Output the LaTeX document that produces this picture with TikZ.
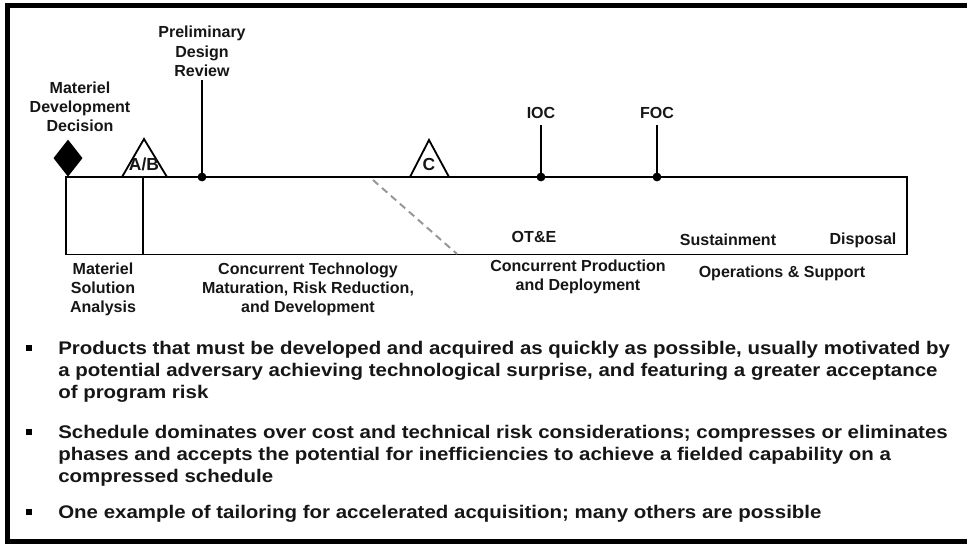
\documentclass[tikz,border=0pt]{standalone}
\usepackage{fontspec}
\setmainfont{Liberation Sans}
\newfontfamily\bulletfont[FakeStretch=1.12]{Liberation Sans}
\usetikzlibrary{shapes.geometric,calc}
\definecolor{acqInk}{RGB}{22,22,22}
\definecolor{acqDash}{RGB}{150,150,150}
\tikzset{
  mtext/.style={font=\bfseries\fontsize{11.4}{13.6}\selectfont,
    text=acqInk, align=center, inner sep=2.5pt, text depth=0pt},
  ptext/.style={font=\bfseries\fontsize{11.4}{13.6}\selectfont,
    text=acqInk, align=center, inner sep=1pt},
  gtext/.style={font=\bfseries\fontsize{12.4}{13}\selectfont,
    text=acqInk, inner sep=0pt},
  btext/.style={font=\bulletfont\bfseries\fontsize{13}{15.6}\selectfont,
    text=acqInk, align=left, inner sep=0pt}
}

\begin{document}
\begin{tikzpicture}[
  outerframe/.style={draw=black, line width=3.6pt},
  phasebox/.style={draw=black, line width=1.4pt},
  gate/.style={draw=black, line width=1.3pt, fill=white, line join=miter},
  decision/.style={diamond, fill=black, inner sep=0pt,
    minimum width=.73cm, minimum height=.93cm},
  event/.style={circle, fill=black, inner sep=0pt, minimum size=.22cm},
  mtick/.style={draw=black, line width=1.3pt},
  overlap/.style={draw=acqDash, line width=1.4pt, dash pattern=on 5pt off 3.5pt},
  sqbullet/.style={rectangle, fill=black, inner sep=0pt, minimum size=.14cm}
]
\path[use as bounding box] (0,0) rectangle (24.175,-13.6);

% outer frame (open to the right)
\draw[outerframe] (24.3,-.14) -- (.18,-.14) -- (.18,-13.54) -- (24.3,-13.54);

% phase box
\draw[phasebox] (1.65,-4.425) rectangle (22.675,-6.3625);
\draw[phasebox] (3.575,-4.425) -- (3.575,-6.3625);

\coordinate (ovtop) at (9.325,-4.5);
\coordinate (ovbot) at (11.425,-6.35);
\draw[overlap] (ovtop) -- (ovbot);

% milestones
\node[decision, anchor=south] (mdd) at (1.7,-4.425) {};
\node[mtext] (mddl) at (2.0,-2.66) {Materiel\\Development\\Decision};

\draw[gate] (3.05,-4.425) -- (3.6,-3.475) -- (4.175,-4.425) -- cycle;
\node[gtext] (msab) at (3.6,-4.12) {A/B};
\draw[gate] (10.25,-4.425) -- (10.725,-3.5) -- (11.225,-4.425) -- cycle;
\node[gtext] (msc) at (10.725,-4.11) {C};

\node[event] (pdr) at (5.05,-4.425) {};
\node[mtext, anchor=south] (pdrl) at (5.05,-2.0) {Preliminary\\Design\\Review};
\draw[mtick] (pdr.center) -- (pdrl.south);

\node[event] (ioc) at (13.525,-4.425) {};
\node[mtext, anchor=south, inner ysep=4.5pt] (iocl) at (13.525,-3.125) {IOC};
\draw[mtick] (ioc.center) -- (iocl.south);

\node[event] (foc) at (16.425,-4.425) {};
\node[mtext, anchor=south, inner ysep=4.5pt] (focl) at (16.425,-3.125) {FOC};
\draw[mtick] (foc.center) -- (focl.south);

% labels in and under the box
\node[ptext] (ote) at (13.35,-5.925) {OT\&E};
\node[ptext] (sust) at (18.2,-6.0) {Sustainment};
\node[ptext] (disp) at (21.575,-6.0) {Disposal};

\node[ptext] (msa) at (2.575,-7.225) {Materiel\\Solution\\Analysis};
\node[ptext] (tmrr) at (7.7,-7.225) {Concurrent Technology\\Maturation, Risk Reduction,\\and Development};
\node[ptext] (pd) at (14.45,-6.925) {Concurrent Production\\and Deployment};
\node[ptext] (os) at (19.55,-6.825) {Operations \& Support};

% bullet list
\node[sqbullet] (b1) at (.725,-8.7) {};
\node[btext, anchor=north west] (t1) at (1.45,-8.525)
  {Products that must be developed and acquired as quickly as possible, usually motivated by\\
   a potential adversary achieving technological surprise, and featuring a greater acceptance\\
   of program risk};
\node[sqbullet] (b2) at (.725,-10.8) {};
\node[btext, anchor=north west] (t2) at (1.45,-10.625)
  {Schedule dominates over cost and technical risk considerations; compresses or eliminates\\
   phases and accepts the potential for inefficiencies to achieve a fielded capability on a\\
   compressed schedule};
\node[sqbullet] (b3) at (.725,-12.8) {};
\node[btext, anchor=north west] (t3) at (1.45,-12.625)
  {One example of tailoring for accelerated acquisition; many others are possible};
\end{tikzpicture}
\end{document}
